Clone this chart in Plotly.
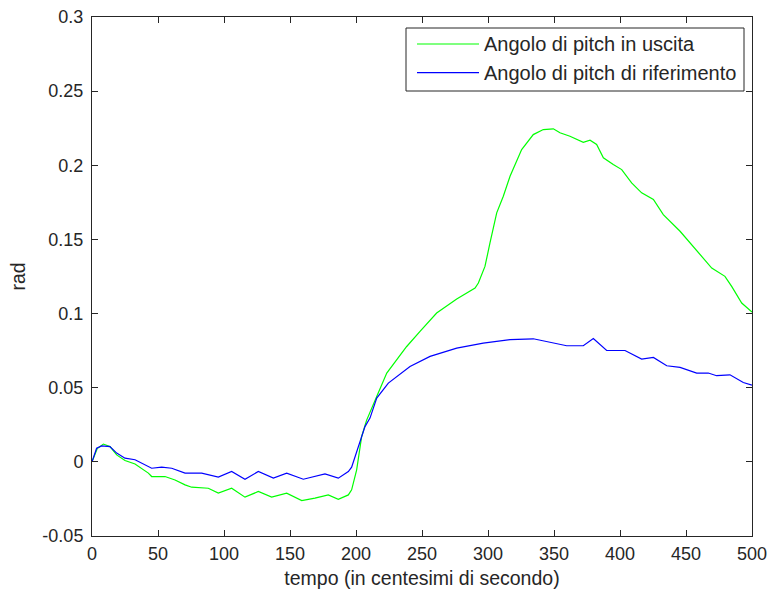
import plotly.graph_objects as go

# ---- data ----
x_uscita = [0, 4, 8.6, 13.6, 18.7, 25, 32.6, 42.7, 45.2, 55.3, 62.9, 70.5, 75.5, 88.1, 95.7,
            105.8, 115.9, 126, 136.1, 147.5, 158.9, 168.9, 179, 186.6, 194.2, 196.7, 200.5,
            204.3, 208, 212, 215.7, 223.3, 238.4, 248.5, 261.1, 276.3, 290.2, 292.7, 297.7,
            301.5, 306.6, 311.6, 316.7, 325.5, 334.3, 341.9, 349.5, 354.5, 362.1, 372.2,
            377.3, 382.3, 387.4, 394.9, 401.3, 408.8, 416.4, 425.3, 432.8, 445.5, 453,
            461.9, 469.5, 479.5, 484.6, 492.2, 500]
y_uscita = [0, 0.009, 0.012, 0.0103, 0.0047, 0.0009, -0.0014, -0.0076, -0.0099, -0.0099,
            -0.0122, -0.0155, -0.0171, -0.0178, -0.0211, -0.0178, -0.0238, -0.0200, -0.0238,
            -0.0211, -0.0261, -0.0245, -0.0223, -0.0252, -0.0223, -0.0189, -0.0054, 0.0171,
            0.028, 0.037, 0.0441, 0.0599, 0.0778, 0.0880, 0.1004, 0.1098, 0.1172, 0.1206,
            0.1318, 0.1476, 0.1679, 0.1791, 0.1926, 0.2106, 0.2207, 0.2241, 0.2246, 0.2219,
            0.2196, 0.2155, 0.2169, 0.2140, 0.2050, 0.2005, 0.1971, 0.1881, 0.1814, 0.1769,
            0.1667, 0.1555, 0.1476, 0.1386, 0.1307, 0.1251, 0.1183, 0.1071, 0.1010]

x_rif = [0, 3.5, 7.3, 13.6, 18.7, 25, 32.6, 45.2, 52.8, 60.4, 70.5, 83.1, 95.7, 105.8, 115.9,
         126, 137.4, 147.5, 160.1, 176.5, 186.6, 194.2, 196.7, 200.5, 206.8, 210.6, 215.7,
         224.5, 240.9, 256.1, 276.3, 296.4, 316.7, 334.3, 347, 359.6, 372.2, 379.8, 389.9,
         403.8, 416.4, 425.3, 435.4, 445.5, 458.1, 466.9, 473.2, 483.3, 493.4, 500]
y_rif = [0, 0.0092, 0.0108, 0.0103, 0.0059, 0.0025, 0.0014, -0.0043, -0.0036, -0.0043,
         -0.0076, -0.0076, -0.0103, -0.0065, -0.0117, -0.0065, -0.0110, -0.0076, -0.0117,
         -0.0081, -0.0110, -0.0065, -0.0036, 0.0070, 0.0238, 0.0295, 0.0430, 0.0531, 0.0643,
         0.0711, 0.0767, 0.0801, 0.0824, 0.0830, 0.0805, 0.0783, 0.0783, 0.0832, 0.0751,
         0.0751, 0.0693, 0.0704, 0.0648, 0.0637, 0.0599, 0.0599, 0.0581, 0.0587, 0.0535,
         0.0518]

x_ticks = [0, 50, 100, 150, 200, 250, 300, 350, 400, 450, 500]
y_ticks = [-0.05, 0, 0.05, 0.1, 0.15, 0.2, 0.25, 0.3]
y_ticklabels = ["-0.05", "0", "0.05", "0.1", "0.15", "0.2", "0.25", "0.3"]

names = ["Angolo di pitch in uscita", "Angolo di pitch di riferimento"]
colors = ["#00FF00", "#0000FF"]

FONT = "Liberation Sans, Arial, sans-serif"
INK = "#262626"

fig = go.Figure()
fig.add_trace(go.Scatter(x=x_uscita, y=y_uscita, mode="lines", name=names[0],
                         line=dict(color=colors[0], width=1.2), showlegend=False))
fig.add_trace(go.Scatter(x=x_rif, y=y_rif, mode="lines", name=names[1],
                         line=dict(color=colors[1], width=1.2), showlegend=False))

axis_common = dict(showgrid=False, zeroline=False, showline=True, linecolor=INK,
                   linewidth=1, mirror="ticks", ticks="inside", ticklen=6,
                   tickcolor=INK, tickwidth=1, ticklabeloverflow="allow",
                   tickfont=dict(family=FONT, size=18, color=INK))

fig.update_xaxes(range=[0, 500], tickvals=x_ticks, ticktext=[str(t) for t in x_ticks],
                 ticklabelstandoff=1,
                 title=dict(text="tempo (in centesimi di secondo)", standoff=8,
                            font=dict(family=FONT, size=19.5, color=INK)),
                 automargin=False, **axis_common)
fig.update_yaxes(range=[-0.05, 0.3], tickvals=y_ticks, ticktext=y_ticklabels,
                 ticklabelstandoff=4,
                 title=dict(text="rad", standoff=11,
                            font=dict(family=FONT, size=19.5, color=INK)),
                 automargin=False, **axis_common)

# legend drawn manually (MATLAB style, long line samples); pixel positions in page coords
px0, px1, py0, py1 = 92, 752, 17, 536
def xp(px):
    return (px - px0) / (px1 - px0)
def yp(py):
    return (py1 - py) / (py1 - py0)

shapes = [dict(type="rect", xref="paper", yref="paper", x0=xp(406), x1=xp(744),
               y0=yp(91), y1=yp(28), line=dict(color=INK, width=1),
               fillcolor="white", layer="above")]
annotations = []
for i, (nm, col) in enumerate(zip(names, colors)):
    yy = 44 + i * 28.7
    shapes.append(dict(type="line", xref="paper", yref="paper", x0=xp(417), x1=xp(479),
                       y0=yp(yy), y1=yp(yy), line=dict(color=col, width=1.2), layer="above"))
    annotations.append(dict(xref="paper", yref="paper", x=xp(482), y=yp(yy), text=nm,
                            showarrow=False, xanchor="left", yanchor="middle",
                            font=dict(family=FONT, size=20, color=INK)))

fig.update_layout(width=769, height=594, margin=dict(l=92, r=17, t=17, b=58),
                  paper_bgcolor="white", plot_bgcolor="white",
                  shapes=shapes, annotations=annotations, showlegend=False)

# remove the default 8px page margin so the 769x594 figure fills the window exactly
fig.write_html("out.html", config={"displayModeBar": False},
               post_script="document.body.style.margin='0';")
